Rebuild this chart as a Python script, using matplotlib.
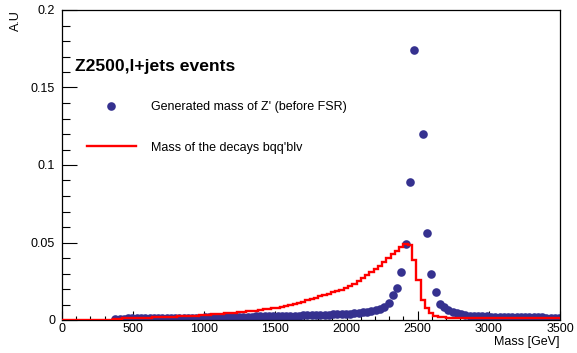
import numpy as np
import matplotlib
matplotlib.use("Agg")
import matplotlib.pyplot as plt
from matplotlib.ticker import MultipleLocator, FormatStrFormatter
from matplotlib.lines import Line2D

plt.rcParams["font.family"] = ["Liberation Sans", "DejaVu Sans"]

# -------------------------------
# DATOS
# -------------------------------
# masa generada del Z' (antes de FSR), bins de 30 GeV con centro en 375 ... 3495
gen_centers = np.arange(375, 3500, 30)
gen_values = [
    0.0008, 0.0009, 0.0009, 0.0010, 0.0010, 0.0010, 0.0011, 0.0011, 0.0011, 0.0012,  # 375-645
    0.0012, 0.0012, 0.0013, 0.0013, 0.0013, 0.0014, 0.0014, 0.0015, 0.0015, 0.0016,  # 675-945
    0.0016, 0.0017, 0.0017, 0.0018, 0.0018, 0.0019, 0.0019, 0.0020, 0.0020, 0.0021,  # 975-1245
    0.0021, 0.0022, 0.0022, 0.0023, 0.0023, 0.0024, 0.0025, 0.0025, 0.0026, 0.0027,  # 1275-1545
    0.0027, 0.0028, 0.0029, 0.0029, 0.0030, 0.0031, 0.0031, 0.0032, 0.0033, 0.0034,  # 1575-1845
    0.0035, 0.0036, 0.0037, 0.0038, 0.0039, 0.0041, 0.0043, 0.0046, 0.0049, 0.0053,  # 1875-2145
    0.0058, 0.0064, 0.0072, 0.0085, 0.0110, 0.0161, 0.0205, 0.0310, 0.0490, 0.0890,  # 2175-2445
    0.1740, np.nan, 0.1200, 0.0560, 0.0300, 0.0180, 0.0103, 0.0082, 0.0065, 0.0052,  # 2475-2745
    0.0043, 0.0036, 0.0032, 0.0029, 0.0027, 0.0025, 0.0024, 0.0023, 0.0022, 0.0021,  # 2775-3045
    0.0021, 0.0020, 0.0020, 0.0019, 0.0019, 0.0018, 0.0018, 0.0018, 0.0017, 0.0017,  # 3075-3345
    0.0017, 0.0016, 0.0016, 0.0016, 0.0015,                                          # 3375-3495
]

# masa de los productos bqq'blv, bins de 30 GeV desde 0 hasta 3510
decay_edges = np.arange(0, 3511, 30)
decay_values = [
    0.0003, 0.0003, 0.0003, 0.0003, 0.0003, 0.0003, 0.0003, 0.0003, 0.0003, 0.0003,  # 0-270
    0.0003, 0.0003, 0.0008, 0.0009, 0.0010, 0.0011, 0.0012, 0.0013, 0.0014, 0.0015,  # 300-570
    0.0016, 0.0017, 0.0018, 0.0019, 0.0020, 0.0021, 0.0022, 0.0024, 0.0025, 0.0026,  # 600-870
    0.0028, 0.0029, 0.0031, 0.0033, 0.0035, 0.0037, 0.0038, 0.0040, 0.0042, 0.0044,  # 900-1170
    0.0046, 0.0049, 0.0052, 0.0055, 0.0058, 0.0061, 0.0064, 0.0068, 0.0072, 0.0076,  # 1200-1470
    0.0080, 0.0085, 0.0090, 0.0096, 0.0102, 0.0110, 0.0118, 0.0126, 0.0135, 0.0143,  # 1500-1770
    0.0152, 0.0160, 0.0170, 0.0180, 0.0188, 0.0196, 0.0205, 0.0218, 0.0235, 0.0252,  # 1800-2070
    0.0270, 0.0290, 0.0310, 0.0330, 0.0350, 0.0375, 0.0400, 0.0425, 0.0448, 0.0468,  # 2100-2370
    0.0490, 0.0485, 0.0387, 0.0258, 0.0130, 0.0075, 0.0043, 0.0028, 0.0021, 0.0017,  # 2400-2670
    0.0015, 0.0014, 0.0014, 0.0013, 0.0013, 0.0013, 0.0013, 0.0013, 0.0012, 0.0012,  # 2700-2970
    0.0012, 0.0012, 0.0012, 0.0012, 0.0012, 0.0012, 0.0011, 0.0011, 0.0011, 0.0011,  # 3000-3270
    0.0011, 0.0011, 0.0011, 0.0011, 0.0011, 0.0011, 0.0011,                          # 3300-3480
]

TITLE = "Z2500,l+jets events"
LABEL_GEN = "Generated mass of Z' (before FSR)"
LABEL_DECAY = "Mass of the decays bqq'blv"

BLUE = "#35318f"
RED = "#ff0000"
FS = 9

# -------------------------------
# GRAFICO
# -------------------------------
fig = plt.figure(figsize=(5.77, 3.53), dpi=100)
ax = fig.add_axes([62 / 577, 1 - 320 / 353, 498 / 577, 310 / 353])

ax.stairs(decay_values, decay_edges, color=RED, linewidth=1.7, zorder=3)
ax.plot(gen_centers, gen_values, "o", color=BLUE, markersize=6.2,
        markeredgewidth=0, zorder=2)

ax.set_xlim(0, 3500)
ax.set_ylim(0, 0.2)

ax.xaxis.set_major_locator(MultipleLocator(500))
ax.xaxis.set_minor_locator(MultipleLocator(100))
ax.yaxis.set_major_locator(MultipleLocator(0.05))
ax.yaxis.set_minor_locator(MultipleLocator(0.01))
ax.yaxis.set_major_formatter(FormatStrFormatter("%g"))

ax.tick_params(axis="both", which="both", direction="in", labelsize=FS,
               top=False, right=False, width=0.8)
ax.tick_params(axis="x", which="major", length=6.5, pad=2)
ax.tick_params(axis="x", which="minor", length=3.2)
ax.tick_params(axis="y", which="major", length=11, pad=5)
ax.tick_params(axis="y", which="minor", length=5.8)

for s in ax.spines.values():
    s.set_linewidth(0.9)

fig.text(560 / 577, 1 - 342 / 353, "Mass [GeV]", ha="right", va="center", fontsize=FS)
fig.text(16 / 577, 1 - 10 / 353, "A.U", ha="center", va="top", rotation=90, fontsize=FS)

fig.text(75 / 577, 1 - 66 / 353, TITLE, ha="left", va="center",
         fontsize=12.6, fontweight="bold")

handles = [
    Line2D([], [], linestyle="none", marker="o", color=BLUE, markersize=6.2,
           markeredgewidth=0),
    Line2D([], [], color=RED, linewidth=1.7),
]
ax.legend(handles, [LABEL_GEN, LABEL_DECAY], loc="upper left",
          bbox_to_anchor=(87 / 577, 1 - 101 / 353), bbox_transform=fig.transFigure,
          frameon=False, fontsize=FS, handlelength=3.9, handletextpad=1.25,
          labelspacing=2.3, borderpad=0, borderaxespad=0)

fig.savefig("out.png", dpi=100)
